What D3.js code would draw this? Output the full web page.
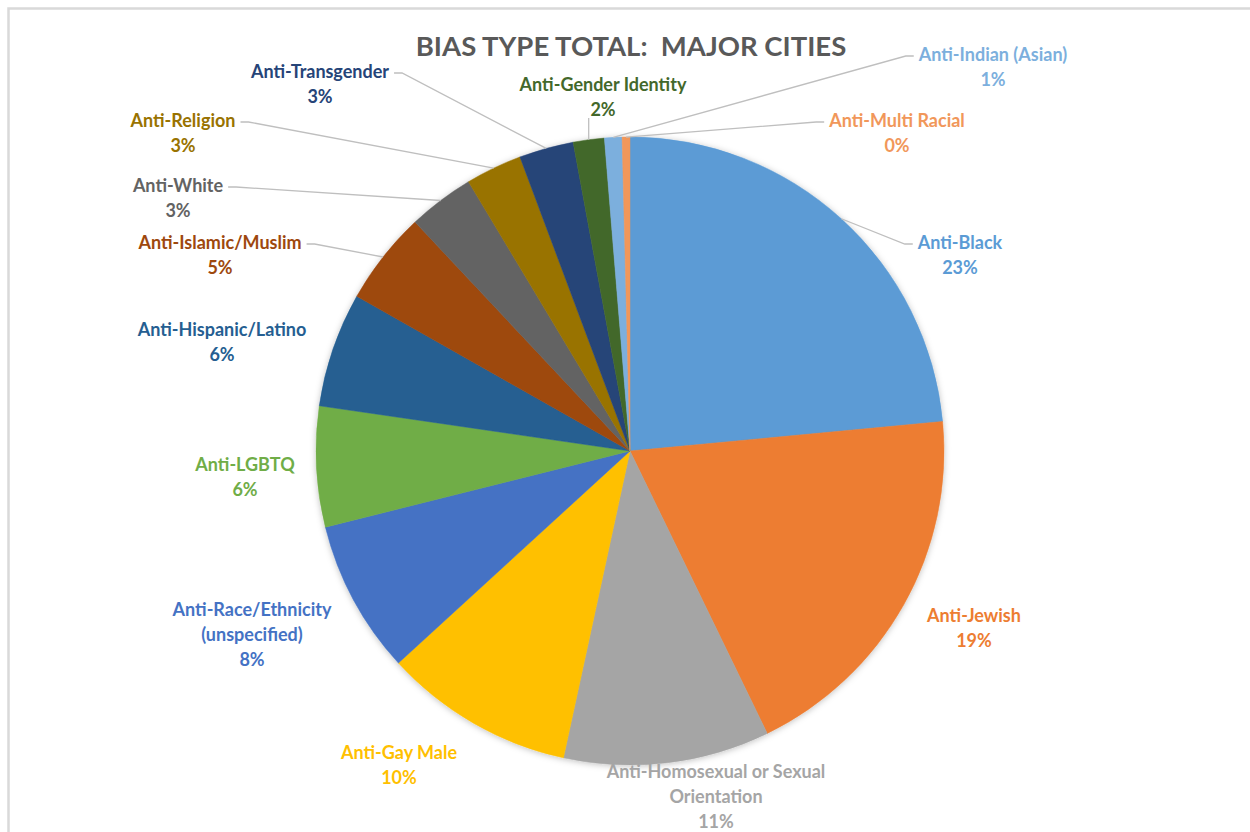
<!DOCTYPE html>
<html>
<head>
<meta charset="utf-8">
<script src="https://cdn.jsdelivr.net/npm/d3@7"></script>
<style>
  body { margin: 0; background: #fff; }
  svg { display: block; }
  text { font-family: Lato, "Open Sans", sans-serif; font-weight: bold; }
</style>
</head>
<body>
<div id="chart"></div>
<script>
// bias categories, clockwise from 12 o'clock
var categories = [
  "Anti-Black", "Anti-Jewish", "Anti-Homosexual or Sexual Orientation", "Anti-Gay Male",
  "Anti-Race/Ethnicity (unspecified)", "Anti-LGBTQ", "Anti-Hispanic/Latino", "Anti-Islamic/Muslim",
  "Anti-White", "Anti-Religion", "Anti-Transgender", "Anti-Gender Identity",
  "Anti-Indian (Asian)", "Anti-Multi Racial"
];
// share of total, percent
var shares = [23.5, 19.3, 10.6, 9.8, 7.9, 6.2, 5.9, 4.8, 3.4, 2.9, 2.8, 1.6, 0.9, 0.4];
var colors = [
  "#5B9BD5", "#ED7D31", "#A5A5A5", "#FFC000", "#4472C4", "#70AD47", "#255E91",
  "#9E480E", "#636363", "#997300", "#264478", "#43682B", "#7CAFDD", "#F1975A"
];

// label layout: text lines, centre x, first baseline, where the leader line leaves
var labelLines = {
  "Anti-Homosexual or Sexual Orientation": ["Anti-Homosexual or Sexual", "Orientation"],
  "Anti-Race/Ethnicity (unspecified)": ["Anti-Race/Ethnicity", "(unspecified)"]
};
var labelLayout = {
  "Anti-Black":        { x: 960, y: 249, leader: "left" },
  "Anti-Jewish":       { x: 974, y: 622 },
  "Anti-Homosexual or Sexual Orientation": { x: 716, y: 778 },
  "Anti-Gay Male":     { x: 399, y: 759 },
  "Anti-Race/Ethnicity (unspecified)": { x: 252, y: 616 },
  "Anti-LGBTQ":        { x: 245, y: 471 },
  "Anti-Hispanic/Latino": { x: 222, y: 336 },
  "Anti-Islamic/Muslim": { x: 220, y: 249, leader: "right" },
  "Anti-White":        { x: 178, y: 192, leader: "right" },
  "Anti-Religion":     { x: 183, y: 127, leader: "right" },
  "Anti-Transgender":  { x: 320, y: 78, leader: "right" },
  "Anti-Gender Identity": { x: 603, y: 91, leader: "bottom" },
  "Anti-Indian (Asian)": { x: 993, y: 61, leader: "left" },
  "Anti-Multi Racial": { x: 897, y: 127, leader: "left" }
};

var width = 1250, height = 832;
var cx = 630, cy = 451, radius = 314;
var lineH = 25;

var data = categories.map(function (c, i) { return { name: c, value: shares[i], color: colors[i] }; });
var total = d3.sum(shares);

var svg = d3.select("#chart").append("svg").attr("width", width).attr("height", height);

var defs = svg.append("defs");
var f = defs.append("filter").attr("id", "shadow").attr("x", "-10%").attr("y", "-10%").attr("width", "120%").attr("height", "120%");
f.append("feDropShadow").attr("dx", 0).attr("dy", 1).attr("stdDeviation", 3)
  .attr("flood-color", "#000").attr("flood-opacity", 0.25);

// chart frame (only top and left edges show)
svg.append("path")
  .attr("d", "M8.5," + height + "V8.5H" + width)
  .attr("fill", "none").attr("stroke", "#d9d9d9").attr("stroke-width", 2.5);

svg.append("text")
  .attr("x", cx + 1).attr("y", 56)
  .attr("text-anchor", "middle")
  .style("font-size", "27.5px")
  .style("white-space", "pre")
  .attr("fill", "#595959")
  .text("BIAS TYPE TOTAL:  MAJOR CITIES");

var pie = d3.pie().sort(null).value(function (d) { return d.value; });
var arc = d3.arc().innerRadius(0).outerRadius(radius);
var arcs = pie(data);

var g = svg.append("g").attr("transform", "translate(" + cx + "," + cy + ")");

g.append("g").attr("filter", "url(#shadow)")
  .selectAll("path")
  .data(arcs)
  .enter()
  .append("path")
  .attr("d", arc)
  .attr("fill", function (d) { return d.data.color; })
  .attr("stroke", function (d) { return d.data.color; })
  .attr("stroke-width", 0.5);

var leaders = svg.append("g");
var labels = svg.append("g");

arcs.forEach(function (a) {
  var d = a.data;
  var pos = labelLayout[d.name];
  var lines = (labelLines[d.name] || [d.name]).concat([Math.round(d.value / total * 100) + "%"]);

  var t = labels.append("text")
    .attr("text-anchor", "middle")
    .attr("fill", d.color)
    .style("font-size", "18px");
  lines.forEach(function (l, i) {
    t.append("tspan").attr("x", pos.x).attr("y", pos.y + i * lineH).text(l);
  });

  if (!pos.leader) return;
  var mid = (a.startAngle + a.endAngle) / 2;
  var px = cx + radius * Math.sin(mid), py = cy - radius * Math.cos(mid);
  var w = t.select("tspan").node().getComputedTextLength();
  var pts;
  if (pos.leader === "right") {
    var sx = pos.x + w / 2 + 5, sy = pos.y - 5;
    pts = [[sx, sy], [sx + 8, sy], [px, py]];
  } else if (pos.leader === "left") {
    var sx2 = pos.x - w / 2 - 5, sy2 = pos.y - 5;
    pts = [[sx2, sy2], [sx2 - 8, sy2], [px, py]];
  } else {
    pts = [[px, pos.y + lineH + 2], [px, py]];
  }
  leaders.append("path")
    .attr("d", d3.line()(pts))
    .attr("fill", "none")
    .attr("stroke", "#bfbfbf")
    .attr("stroke-width", 1.3);
});
</script>
</body>
</html>
